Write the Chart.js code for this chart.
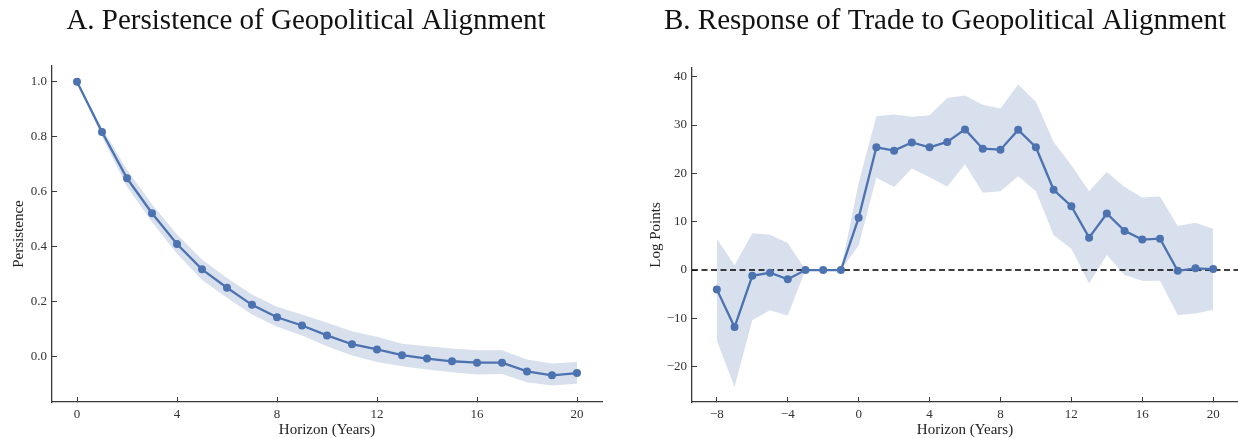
<!DOCTYPE html>
<html>
<head>
<meta charset="utf-8">
<script src="https://cdn.jsdelivr.net/npm/chart.js@4/dist/chart.umd.min.js"></script>
<style>
  html, body { margin: 0; padding: 0; background: #ffffff; }
  #wrap { position: relative; width: 1238px; height: 438px; overflow: hidden; }
  .panel { position: absolute; top: 0; height: 438px; }
</style>
</head>
<body>
<div id="wrap">
  <div class="panel" style="left:0px; width:619px;"><canvas id="chartA" width="619" height="438"></canvas></div>
  <div class="panel" style="left:619px; width:623px;"><canvas id="chartB" width="623" height="438"></canvas></div>
</div>
<script>
// ---------- Panel A data ----------
const horizonA = [0, 1, 2, 3, 4, 5, 6, 7, 8, 9, 10, 11, 12, 13, 14, 15, 16, 17, 18, 19, 20];
const persistence = [1.0, 0.817, 0.649, 0.522, 0.410, 0.318, 0.251, 0.189, 0.144, 0.114, 0.078, 0.046, 0.027, 0.006, -0.006, -0.016, -0.021, -0.021, -0.053, -0.067, -0.059];
const persistenceUpper = [1.0, 0.832, 0.680, 0.555, 0.445, 0.354, 0.287, 0.227, 0.182, 0.154, 0.124, 0.093, 0.073, 0.048, 0.039, 0.030, 0.024, 0.024, -0.010, -0.024, -0.019];
const persistenceLower = [1.0, 0.800, 0.618, 0.490, 0.375, 0.279, 0.215, 0.154, 0.109, 0.078, 0.039, 0.005, -0.019, -0.034, -0.046, -0.056, -0.064, -0.062, -0.092, -0.104, -0.098];
const xTicksA = [0, 4, 8, 12, 16, 20];
const yTicksA = [0.0, 0.2, 0.4, 0.6, 0.8, 1.0];

// ---------- Panel B data ----------
const horizonB = [-8, -7, -6, -5, -4, -3, -2, -1, 0, 1, 2, 3, 4, 5, 6, 7, 8, 9, 10, 11, 12, 13, 14, 15, 16, 17, 18, 19, 20];
const tradeResponse = [-4.0, -11.8, -1.2, -0.55, -1.9, 0, 0, 0, 10.8, 25.4, 24.7, 26.4, 25.4, 26.5, 29.1, 25.1, 24.9, 29.0, 25.4, 16.6, 13.2, 6.7, 11.7, 8.1, 6.3, 6.5, -0.15, 0.35, 0.2];
const tradeUpper = [6.5, 1.0, 7.6, 7.3, 5.6, 0, 0, 0, 18.0, 31.8, 32.2, 31.7, 32.0, 35.6, 36.1, 34.2, 33.4, 38.4, 34.8, 26.5, 21.7, 16.3, 20.3, 17.2, 15.0, 15.2, 9.1, 9.8, 8.5];
const tradeLower = [-14.6, -24.2, -10.4, -8.3, -9.4, 0, 0, 0, 5.1, 19.1, 17.2, 21.0, 19.2, 17.3, 21.9, 16.0, 16.3, 19.4, 16.3, 7.2, 4.4, -2.8, 3.1, -1.0, -2.2, -2.2, -9.3, -9.0, -8.2];
const xTicksB = [-8, -4, 0, 4, 8, 12, 16, 20];
const yTicksB = [-20, -10, 0, 10, 20, 30, 40];

// ---------- styling ----------
const LINE = '#4c72b0';
const BAND = 'rgba(76,114,176,0.22)';
const AXIS = '#3a3a3a';
const SERIF = '"Liberation Serif", "DejaVu Serif", serif';

const pts = (xs, ys) => xs.map((x, i) => ({ x: x, y: ys[i] }));
const fmtMinus = v => String(v).replace('-', '\u2212');

function datasets(xs, mid, up, lo) {
  return [
    { data: pts(xs, up), borderWidth: 0, pointRadius: 0, backgroundColor: BAND, fill: '+1', order: 3 },
    { data: pts(xs, lo), borderWidth: 0, pointRadius: 0, backgroundColor: BAND, fill: false, order: 2 },
    { data: pts(xs, mid), borderColor: LINE, backgroundColor: LINE, borderWidth: 2.3,
      pointRadius: 4, pointBackgroundColor: LINE, pointBorderWidth: 0, fill: false, tension: 0, order: 1 }
  ];
}

function axisCommon() {
  return {
    type: 'linear',
    grid: { display: true, drawOnChartArea: false, drawTicks: true, tickLength: -5, tickColor: AXIS, tickWidth: 1 },
    border: { display: true, color: AXIS, width: 1.3 },
  };
}

function makeChart(id, cfg) {
  const xs = Object.assign(axisCommon(), {
    position: 'bottom', min: cfg.xMin, max: cfg.xMax,
    afterBuildTicks: s => { s.ticks = cfg.xTicks.map(v => ({ value: v })); },
    afterFit: s => { s.height = 36; },
    ticks: { padding: 10, color: '#333', font: { family: SERIF, size: 13 }, callback: v => fmtMinus(v), maxRotation: 0, autoSkip: false },
    title: { display: true, text: 'Horizon (Years)', color: '#222', font: { family: SERIF, size: 15 }, padding: { top: 0, bottom: -1 } }
  });
  const ys = Object.assign(axisCommon(), {
    position: 'left', min: cfg.yMin, max: cfg.yMax,
    afterBuildTicks: s => { s.ticks = cfg.yTicks.map(v => ({ value: v })); },
    afterFit: s => { s.width = cfg.yWidth; },
    ticks: { padding: 10, color: '#333', font: { family: SERIF, size: 13 }, callback: cfg.yFmt, autoSkip: false },
    title: { display: true, text: cfg.yTitle, color: '#222', font: { family: SERIF, size: 15 }, padding: { top: cfg.yTitlePad, bottom: 0 } }
  });
  const plugins = [];
  if (cfg.zeroLine) {
    plugins.push({
      id: 'zeroLine',
      beforeDatasetsDraw(chart) {
        const ca = chart.chartArea;
        const y = chart.scales.y.getPixelForValue(0);
        const ctx = chart.ctx;
        ctx.save();
        ctx.strokeStyle = '#000';
        ctx.lineWidth = 1.6;
        ctx.setLineDash([6, 3.5]);
        ctx.beginPath();
        ctx.moveTo(ca.left, y);
        ctx.lineTo(ca.right, y);
        ctx.stroke();
        ctx.restore();
      }
    });
  }
  return new Chart(document.getElementById(id), {
    type: 'line',
    data: { datasets: datasets(cfg.xs, cfg.mid, cfg.up, cfg.lo) },
    options: {
      responsive: false,
      animation: false,
      devicePixelRatio: 1,
      layout: { padding: cfg.pad },
      scales: { x: xs, y: ys },
      plugins: {
        legend: { display: false },
        tooltip: { enabled: false },
        filler: { drawTime: 'beforeDatasetsDraw' },
        title: { display: true, text: cfg.title, color: '#111', font: { family: SERIF, size: 29, weight: 'normal' },
                 padding: { top: 4, bottom: cfg.titleBottom } }
      }
    },
    plugins: plugins
  });
}

makeChart('chartA', {
  xs: horizonA, mid: persistence, up: persistenceUpper, lo: persistenceLower,
  xMin: -1, xMax: 21, yMin: -0.164, yMax: 1.057,
  xTicks: xTicksA, yTicks: yTicksA, yFmt: v => v.toFixed(1),
  yTitle: 'Persistence', yTitlePad: 0, yWidth: 42,
  pad: { left: 10, right: 17, top: 0, bottom: 0 },
  title: 'A. Persistence of Geopolitical Alignment', titleBottom: 27.2,
  zeroLine: false
});

makeChart('chartB', {
  xs: horizonB, mid: tradeResponse, up: tradeUpper, lo: tradeLower,
  xMin: -9.4, xMax: 21.4, yMin: -27.3, yMax: 41.8,
  xTicks: xTicksB, yTicks: yTicksB, yFmt: v => fmtMinus(v),
  yTitle: 'Log Points', yTitlePad: -1.4, yWidth: 44,
  pad: { left: 29, right: 0, top: 0, bottom: 0 },
  title: 'B. Response of Trade to Geopolitical Alignment', titleBottom: 29.2,
  zeroLine: true
});
</script>
</body>
</html>
